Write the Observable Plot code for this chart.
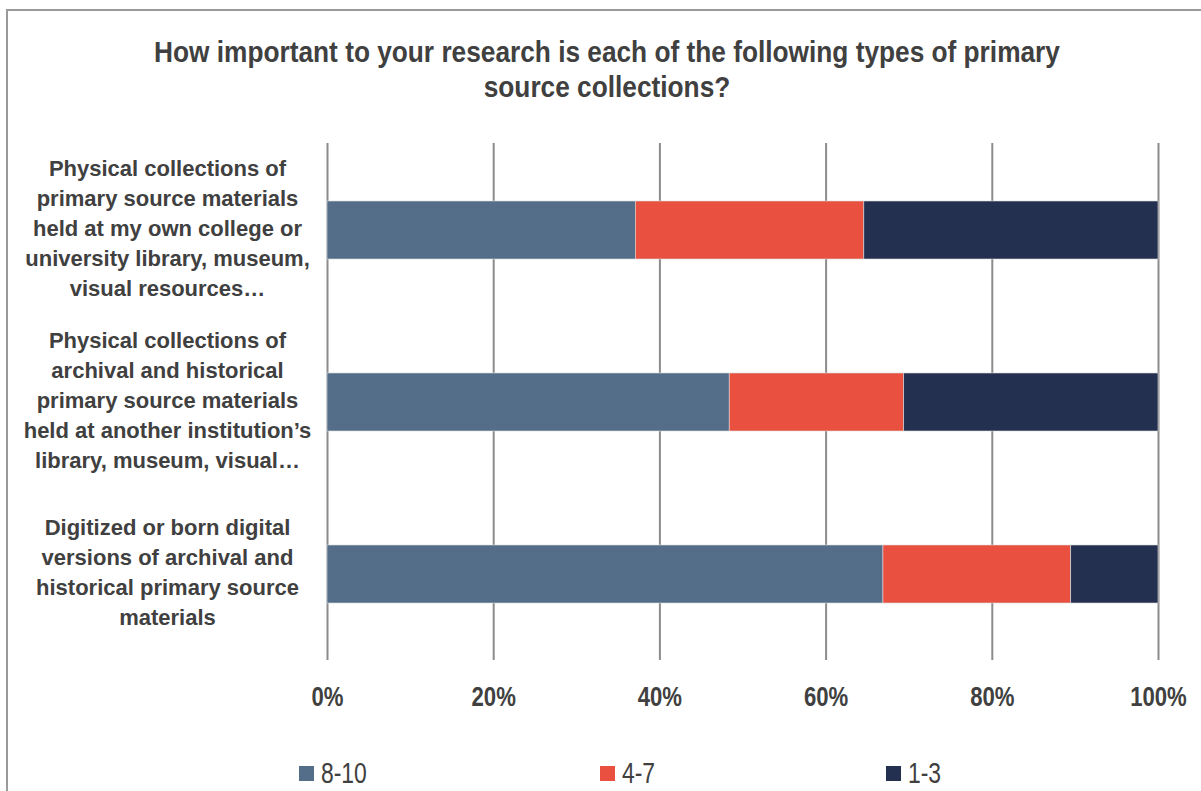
<!DOCTYPE html>
<html><head><meta charset="utf-8">
<script src="https://cdn.jsdelivr.net/npm/d3@7"></script>
<script src="https://cdn.jsdelivr.net/npm/@observablehq/plot@0.6"></script>
<style>
body{margin:0;background:#fff;width:1201px;height:791px;overflow:hidden;position:relative;font-family:"Liberation Sans",Arial,sans-serif}
#frame{position:absolute;left:6px;top:9px;width:1210px;height:800px;border:2px solid #9a9a9a;box-sizing:border-box}
#title{position:absolute;left:0;width:1214px;top:34px;text-align:center;font-weight:bold;font-size:30px;font-family:"Liberation Sans",Arial,sans-serif;color:#404040;line-height:35px;transform:scaleX(0.875);transform-origin:607px 0}
#chart{position:absolute;left:0;top:0}
#legend{position:absolute;left:0;top:0;width:1201px;height:791px;pointer-events:none}
.li{position:absolute;top:758px;height:30px;display:flex;align-items:center;color:#404040}
.sw{width:15px;height:15px;display:inline-block}
.lt{display:inline-block;font-size:29px;line-height:30px;font-family:"Liberation Sans",Arial,sans-serif;transform:scaleX(0.79);transform-origin:0 50%;margin-left:7px}
.xax text{font-family:"Liberation Sans",Arial,sans-serif;font-weight:bold;font-size:28px;fill:#404040}
</style>
</head><body>
<div id="frame"></div>
<div id="chart"></div>
<div id="title">How important to your research is each of the following types of primary<br>source collections?</div>
<div id="legend"></div>
<script>
const categories = [
  "Physical collections of\nprimary source materials\nheld at my own college or\nuniversity library, museum,\nvisual resources…",
  "Physical collections of\narchival and historical\nprimary source materials\nheld at another institution’s\nlibrary, museum, visual…",
  "Digitized or born digital\nversions of archival and\nhistorical primary source\nmaterials"
];
const series = ["8-10", "4-7", "1-3"];
const values810 = [37.1, 48.4, 66.9];
const values47 = [27.5, 21.0, 22.6];
const values13 = [35.4, 30.6, 10.5];
const colors = ["#546E8A", "#E9503F", "#243050"];
const xTicks = [0, 20, 40, 60, 80, 100];

const seriesValues = [values810, values47, values13];
const data = categories.flatMap((c, i) => series.map((s, j) => ({cat: c, s, v: seriesValues[j][i]})));

const chart = Plot.plot({
  width: 1201, height: 791,
  marginLeft: 327, marginRight: 43, marginTop: 143, marginBottom: 131,
  style: {fontFamily: "'Liberation Sans', Arial, sans-serif", background: "transparent", overflow: "visible"},
  x: {domain: [0, 100], axis: null, label: null},
  y: {domain: categories, paddingInner: 0.663, paddingOuter: 0.3315, axis: null, label: null},
  color: {domain: series, range: colors},
  marks: [
    Plot.ruleX(xTicks, {x: d => d, stroke: "#8c8c8c", strokeWidth: 2}),
    Plot.barX(data, Plot.stackX({x: "v", y: "cat", fill: "s", stroke: "#d9d9d9", strokeWidth: 0.6})),
    Plot.axisX({ticks: xTicks, tickSize: 0, tickPadding: 26, label: null, tickFormat: d => d + "%", className: "xax"}),
    Plot.text(categories, {y: d => d, text: d => d, frameAnchor: "left", dx: -160, dy: -4, textAnchor: "middle",
      lineHeight: 30 / 22, fontSize: 22, fontWeight: "bold", fill: "#404040"})
  ]
});
document.getElementById("chart").appendChild(chart);

// condense the tick labels like the original's narrow font
chart.querySelectorAll("g.xax text").forEach(el => {
  const t = el.getAttribute("transform");
  if (t && t.includes("translate")) {
    el.setAttribute("transform", t + " scale(0.79,1)");
  } else {
    const x = +(el.getAttribute("x") || 0);
    el.setAttribute("transform", `translate(${x},0) scale(0.79,1) translate(${-x},0)`);
  }
});

const legendLefts = [299, 600, 886];
const leg = document.getElementById("legend");
series.forEach((s, i) => {
  const d = document.createElement("div");
  d.className = "li";
  d.style.left = legendLefts[i] + "px";
  d.innerHTML = `<span class="sw" style="background:${colors[i]}"></span><span class="lt">${s}</span>`;
  leg.appendChild(d);
});
</script>
</body></html>
